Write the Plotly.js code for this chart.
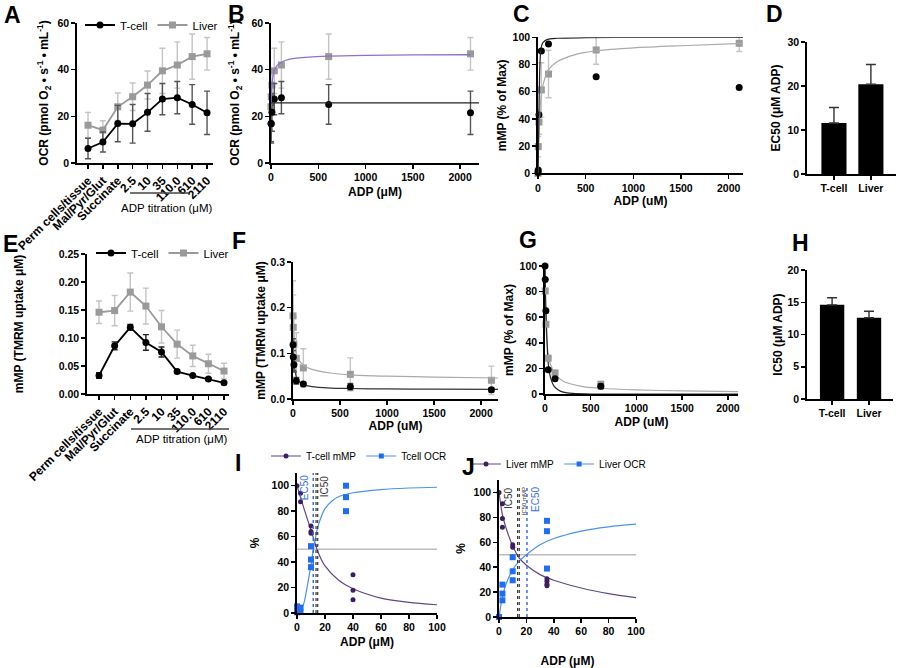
<!DOCTYPE html>
<html><head><meta charset="utf-8">
<script src="https://cdn.plot.ly/plotly-3.0.1.min.js"></script>
<style>html,body{margin:0;padding:0;background:#fff}#chart{width:900px;height:668px}</style>
</head><body><div id="chart"></div>
<script>
// ---------- DATA ----------
const categories = ['Perm cells/tissue','Mal/Pyr/Glut','Succinate','2.5','10','35','110.0','610','2110'];
// A: OCR
const ocrTcell = [6.2, 9.0, 16.9, 16.8, 21.7, 27.4, 28.0, 25.1, 21.5];
const ocrTcellErr = [4.4, 4.3, 7.8, 8.3, 8.1, 6.7, 6.9, 8.5, 9.3];
const ocrLiver = [16.2, 14.1, 24.1, 28.4, 33.4, 39.5, 42.0, 45.6, 46.8];
const ocrLiverErr = [5.5, 4.0, 5.9, 5.9, 6.0, 9.7, 9.9, 9.7, 7.0];
// B: ADP doses (Succinate = 0)
const adpDoses = [0, 2.5, 10, 35, 110, 610, 2110];
const bFitTcellX = [0, 2200];
const bFitTcellY = [25.8, 25.8];
const bFitLiverX = [0, 2.5, 5, 10, 20, 35, 60, 110, 200, 400, 610, 1000, 1500, 2110];
const bFitLiverY = [24, 27.5, 30, 33.5, 37, 39.6, 41.5, 43.2, 44.5, 45.4, 45.8, 46.1, 46.3, 46.4];
// C: mMP % of max
const cTcell = [0.6, 2.5, 43, 90, 95, 71, 63];
const cLiver = [0, 19.6, 37.7, 61.3, 73, 90.7, 95.6];
const cLiverErr = [0, 7.5, 9, 20, 17.5, 10.5, 6];
const cFitTcellX = [0, 2.5, 5, 10, 15, 20, 30, 50, 100, 200, 500, 1000, 2150];
const cFitTcellY = [0, 8, 20, 45, 66, 80, 91, 96, 98.5, 99.3, 99.7, 99.9, 100];
const cFitLiverX = [0, 2.5, 5, 10, 20, 35, 60, 110, 200, 400, 610, 1000, 1500, 2150];
const cFitLiverY = [0, 10, 18, 30, 46, 58, 67, 76, 82, 87.5, 90, 92.2, 93.8, 95.5];
// D: EC50
const barCategories = ['T-cell', 'Liver'];
const ec50 = [11.6, 20.4];
const ec50Err = [3.5, 4.5];
// E: mMP TMRM
const mmpTcell = [0.033, 0.086, 0.119, 0.092, 0.075, 0.040, 0.033, 0.027, 0.020];
const mmpTcellErr = [0.005, 0.007, 0.005, 0.014, 0.009, 0.003, 0.002, 0.002, 0.002];
const mmpLiver = [0.146, 0.149, 0.182, 0.157, 0.120, 0.089, 0.068, 0.054, 0.041];
const mmpLiverErr = [0.020, 0.027, 0.034, 0.032, 0.029, 0.025, 0.019, 0.017, 0.014];
// F
const fTcellErr = [0.013, 0.03, 0.016, 0.007, 0.004, 0.007, 0.005];
const fLiverErr = [0.077, 0.071, 0.06, 0.056, 0.042, 0.036, 0.031];
const fFitX = [0, 2.5, 5, 10, 20, 35, 60, 110, 200, 400, 610, 1000, 1500, 2180];
const fFitTcellY = [0.12, 0.107, 0.097, 0.083, 0.064, 0.049, 0.039, 0.032, 0.027, 0.024, 0.023, 0.022, 0.0215, 0.021];
const fFitLiverY = [0.182, 0.168, 0.157, 0.14, 0.118, 0.1, 0.087, 0.074, 0.065, 0.057, 0.053, 0.05, 0.048, 0.046];
// G
const gAdpTcell = [0, 2.5, 10, 35, 110, 610];
const gTcell = [100, 89.5, 65, 19, 12, 6];
const gTcellErr = [0, 0, 0, 0, 0, 2];
const gAdpLiver = [2.5, 10, 35, 110, 610];
const gLiver = [80.5, 54.5, 28, 16.5, 7.5];
const gLiverErr = [0, 0, 0, 0, 2.5];
const gFitTcellX = [0, 2.5, 5, 10, 20, 35, 60, 100, 150, 200, 300, 500, 1000, 2110];
const gFitTcellY = [100, 90, 80, 66, 45, 24, 13, 6, 3, 1.5, 0.5, 0, 0, 0];
const gFitLiverX = [0, 2.5, 5, 10, 20, 35, 60, 110, 200, 400, 610, 1000, 1500, 2110];
const gFitLiverY = [100, 82, 70, 56, 42, 31, 23, 16, 10, 6, 4.5, 3.2, 2.4, 1.9];
// H: IC50
const ic50 = [14.6, 12.6];
const ic50Err = [1.1, 1.0];
// I: T-cell overlay
const iAdpMmp = [0, 2.5, 2.5, 10, 10, 10, 40, 40, 40];
const iMmp = [100, 94, 87.5, 68.4, 64, 62.7, 30, 17.8, 10.4];
const iAdpOcr = [0, 0, 0, 2.5, 2.5, 10, 10, 10, 35, 35, 35];
const iOcr = [5.2, 2.6, 0.5, 4.2, 0.8, 52.5, 42, 36, 100, 91, 80];
const iFitMmpX = [0, 2.5, 5, 10, 15, 20, 30, 40, 60, 80, 100];
const iFitMmpY = [100, 91, 82, 65, 48, 37, 25.5, 19, 11.7, 8.4, 6.5];
const iFitOcrX = [0, 2.5, 5, 7.5, 10, 12, 15, 20, 25, 30, 40, 60, 80, 100];
const iFitOcrY = [0, 2, 8, 22, 38, 52, 68, 82, 88, 91.5, 94.5, 97, 98.2, 98.8];
const iIc50Lines = [13.6, 14.8];
// J: Liver overlay
const jAdpMmp = [0, 2.5, 2.5, 2.5, 10, 10, 10, 35, 35, 35, 35];
const jMmp = [100, 91, 79, 72, 58, 56, 48, 30.8, 28.7, 26.3, 25];
const jAdpOcr = [0, 2.5, 2.5, 2.5, 10, 10, 10, 35, 35, 35];
const jOcr = [0, 26, 18.8, 13.4, 48, 36.7, 29.5, 77.2, 68.9, 38.9];
const jFitMmpX = [0, 2.5, 5, 10, 15, 20, 30, 40, 60, 80, 100];
const jFitMmpY = [100, 82, 72, 57, 47, 41.5, 34, 29.5, 23.3, 18.8, 15.5];
const jFitOcrX = [0, 1, 2.5, 5, 10, 15, 20, 30, 40, 60, 80, 100];
const jFitOcrY = [0, 7, 16, 26, 38, 45, 50, 58, 63, 69, 72.4, 74.5];
const jIc50Lines = [13.6, 14.8];
const halfLevel = 50;

// ---------- STYLE ----------
const F = 'Liberation Sans, Arial, sans-serif';
const W = 900, H = 668;
const xd = (a, b) => [a / W, b / W];
const yd = (top, bottom) => [1 - bottom / H, 1 - top / H];
const BLACK = '#000', GRAY = '#9a9a9a', GRAYERR = '#c4c4c4', DARKERR = '#555';
const PURPLE = '#3b1f5f', PURPLELINE = '#5f4888', BLUE = '#1c6ef2', BLUELINE = '#4a92f2';

function axis(extra) {
  return Object.assign({
    showline: true, linecolor: '#000', linewidth: 1.8, ticks: 'outside', ticklen: 4,
    tickwidth: 1.5, tickcolor: '#000', showgrid: false, zeroline: false,
    tickfont: {family: F, size: 10.5, color: '#000', weight: 'bold'}, fixedrange: true
  }, extra);
}
function ttl(text, extra) {
  return Object.assign({text: text, font: {family: F, size: 12, color: '#000', weight: 'bold'}}, extra || {});
}
function err(arr, color) {
  return {type: 'data', array: arr, color: color, thickness: 1.4, width: 3, visible: true};
}
const spl = (color, w) => ({color: color, width: w || 1.2, shape: 'spline', smoothing: 0.8});
const catFont = {family: F, size: 12, color: '#000', weight: 'bold'};

const traces = [];
// A
traces.push({x: categories, y: ocrLiver, xaxis: 'x', yaxis: 'y', name: 'Liver', mode: 'lines+markers', legendrank: 2,
  line: {color: GRAY, width: 1.8}, marker: {symbol: 'square', size: 7, color: GRAY},
  error_y: err(ocrLiverErr, GRAYERR), legend: 'legend', cliponaxis: false});
traces.push({x: categories, y: ocrTcell, xaxis: 'x', yaxis: 'y', name: 'T-cell', mode: 'lines+markers', legendrank: 1,
  line: {color: BLACK, width: 1.8}, marker: {symbol: 'circle', size: 7, color: BLACK},
  error_y: err(ocrTcellErr, DARKERR), legend: 'legend', cliponaxis: false});
// B
traces.push({x: adpDoses, y: ocrLiver.slice(2), xaxis: 'x2', yaxis: 'y2', mode: 'markers', showlegend: false,
  marker: {symbol: 'square', size: 7, color: GRAY}, error_y: err(ocrLiverErr.slice(2), GRAYERR), cliponaxis: false});
traces.push({x: adpDoses, y: ocrTcell.slice(2), xaxis: 'x2', yaxis: 'y2', mode: 'markers', showlegend: false,
  marker: {symbol: 'circle', size: 7, color: BLACK}, error_y: err(ocrTcellErr.slice(2), DARKERR), cliponaxis: false});
traces.push({x: bFitLiverX, y: bFitLiverY, xaxis: 'x2', yaxis: 'y2', mode: 'lines', showlegend: false,
  line: spl('#8d72c9', 1.3)});
traces.push({x: bFitTcellX, y: bFitTcellY, xaxis: 'x2', yaxis: 'y2', mode: 'lines', showlegend: false,
  line: {color: '#222', width: 1.2}});
// C
traces.push({x: adpDoses, y: cLiver, xaxis: 'x3', yaxis: 'y3', mode: 'markers', showlegend: false,
  marker: {symbol: 'square', size: 7, color: GRAY}, error_y: err(cLiverErr, GRAYERR), cliponaxis: false});
traces.push({x: adpDoses, y: cTcell, xaxis: 'x3', yaxis: 'y3', mode: 'markers', showlegend: false,
  marker: {symbol: 'circle', size: 7, color: BLACK}, cliponaxis: false});
traces.push({x: cFitLiverX, y: cFitLiverY, xaxis: 'x3', yaxis: 'y3', mode: 'lines', showlegend: false, line: spl('#aaa')});
traces.push({x: cFitTcellX, y: cFitTcellY, xaxis: 'x3', yaxis: 'y3', mode: 'lines', showlegend: false, line: spl('#222')});
// D
traces.push({x: barCategories, y: ec50, xaxis: 'x4', yaxis: 'y4', type: 'bar', showlegend: false, width: 0.68,
  marker: {color: '#000'}, error_y: {type: 'data', symmetric: false, array: ec50Err, arrayminus: [0, 0], color: '#333', thickness: 1.4, width: 5}});
// E
traces.push({x: categories, y: mmpLiver, xaxis: 'x5', yaxis: 'y5', name: 'Liver', mode: 'lines+markers', legendrank: 2,
  line: {color: GRAY, width: 1.8}, marker: {symbol: 'square', size: 7, color: GRAY},
  error_y: err(mmpLiverErr, GRAYERR), legend: 'legend2', cliponaxis: false});
traces.push({x: categories, y: mmpTcell, xaxis: 'x5', yaxis: 'y5', name: 'T-cell', mode: 'lines+markers', legendrank: 1,
  line: {color: BLACK, width: 1.8}, marker: {symbol: 'circle', size: 7, color: BLACK},
  error_y: err(mmpTcellErr, '#222'), legend: 'legend2', cliponaxis: false});
// F
traces.push({x: adpDoses, y: mmpLiver.slice(2), xaxis: 'x6', yaxis: 'y6', mode: 'markers', showlegend: false,
  marker: {symbol: 'square', size: 7, color: GRAY}, error_y: err(fLiverErr, GRAYERR), cliponaxis: false});
traces.push({x: fFitX, y: fFitLiverY, xaxis: 'x6', yaxis: 'y6', mode: 'lines', showlegend: false, line: spl('#aaa')});
traces.push({x: fFitX, y: fFitTcellY, xaxis: 'x6', yaxis: 'y6', mode: 'lines', showlegend: false, line: spl('#333')});
traces.push({x: adpDoses, y: mmpTcell.slice(2), xaxis: 'x6', yaxis: 'y6', mode: 'markers', showlegend: false,
  marker: {symbol: 'circle', size: 7, color: BLACK}, error_y: err(fTcellErr, DARKERR), cliponaxis: false});
// G
traces.push({x: gFitLiverX, y: gFitLiverY, xaxis: 'x7', yaxis: 'y7', mode: 'lines', showlegend: false, line: spl('#aaa')});
traces.push({x: gFitTcellX, y: gFitTcellY, xaxis: 'x7', yaxis: 'y7', mode: 'lines', showlegend: false, line: spl('#222')});
traces.push({x: gAdpLiver, y: gLiver, xaxis: 'x7', yaxis: 'y7', mode: 'markers', showlegend: false,
  marker: {symbol: 'square', size: 7, color: GRAY}, error_y: err(gLiverErr, GRAYERR), cliponaxis: false});
traces.push({x: gAdpTcell, y: gTcell, xaxis: 'x7', yaxis: 'y7', mode: 'markers', showlegend: false,
  marker: {symbol: 'circle', size: 7, color: BLACK}, error_y: err(gTcellErr, DARKERR), cliponaxis: false});
// H
traces.push({x: barCategories, y: ic50, xaxis: 'x8', yaxis: 'y8', type: 'bar', showlegend: false, width: 0.66,
  marker: {color: '#000'}, error_y: {type: 'data', symmetric: false, array: ic50Err, arrayminus: [0, 0], color: '#333', thickness: 1.4, width: 5}});
// I
traces.push({x: iFitMmpX, y: iFitMmpY, xaxis: 'x9', yaxis: 'y9', mode: 'lines', showlegend: false, line: spl(PURPLELINE)});
traces.push({x: iFitOcrX, y: iFitOcrY, xaxis: 'x9', yaxis: 'y9', mode: 'lines', showlegend: false, line: spl(BLUELINE)});
traces.push({x: iAdpMmp, y: iMmp, xaxis: 'x9', yaxis: 'y9', mode: 'markers', showlegend: false,
  marker: {symbol: 'circle', size: 5, color: PURPLE}, cliponaxis: false});
traces.push({x: iAdpOcr, y: iOcr, xaxis: 'x9', yaxis: 'y9', mode: 'markers', showlegend: false,
  marker: {symbol: 'square', size: 6, color: BLUE}, cliponaxis: false});
traces.push({x: [null], y: [null], xaxis: 'x9', yaxis: 'y9', mode: 'lines+markers', name: 'T-cell mMP', legend: 'legend3',
  line: {color: PURPLELINE, width: 1.2}, marker: {symbol: 'circle', size: 5, color: PURPLE}});
traces.push({x: [null], y: [null], xaxis: 'x9', yaxis: 'y9', mode: 'lines+markers', name: 'Tcell OCR', legend: 'legend3',
  line: {color: BLUELINE, width: 1.2}, marker: {symbol: 'square', size: 5, color: BLUE}});
// J
traces.push({x: jFitMmpX, y: jFitMmpY, xaxis: 'x10', yaxis: 'y10', mode: 'lines', showlegend: false, line: spl(PURPLELINE)});
traces.push({x: jFitOcrX, y: jFitOcrY, xaxis: 'x10', yaxis: 'y10', mode: 'lines', showlegend: false, line: spl(BLUELINE)});
traces.push({x: jAdpMmp, y: jMmp, xaxis: 'x10', yaxis: 'y10', mode: 'markers', showlegend: false,
  marker: {symbol: 'circle', size: 5, color: PURPLE}, cliponaxis: false});
traces.push({x: jAdpOcr, y: jOcr, xaxis: 'x10', yaxis: 'y10', mode: 'markers', showlegend: false,
  marker: {symbol: 'square', size: 6, color: BLUE}, cliponaxis: false});
traces.push({x: [null], y: [null], xaxis: 'x10', yaxis: 'y10', mode: 'lines+markers', name: 'Liver mMP', legend: 'legend4',
  line: {color: PURPLELINE, width: 1.2}, marker: {symbol: 'circle', size: 5, color: PURPLE}});
traces.push({x: [null], y: [null], xaxis: 'x10', yaxis: 'y10', mode: 'lines+markers', name: 'Liver OCR', legend: 'legend4',
  line: {color: BLUELINE, width: 1.2}, marker: {symbol: 'square', size: 5, color: BLUE}});

// ---------- LAYOUT ----------
const ocrTitle = 'OCR (pmol O<sub>2</sub> • s<sup>-1</sup> • mL<sup>-1</sup>)';
const legBase = {orientation: 'h', xanchor: 'left', yanchor: 'middle', bgcolor: 'rgba(0,0,0,0)',
  font: {family: F, size: 11.5, color: '#000'}, itemwidth: 30, tracegroupgap: 0, traceorder: 'normal'};
const legSmall = Object.assign({}, legBase, {font: {family: F, size: 10, color: '#000'}});

const letters = [['A', 12, 15], ['B', 236, 14], ['C', 521, 14], ['D', 774, 14], ['E', 10, 244], ['F', 239, 241],
  ['G', 528, 240], ['H', 800, 243], ['I', 238, 463], ['J', 468, 467]];
const annotations = letters.map(l => ({text: l[0], xref: 'paper', yref: 'paper', x: l[1] / W, y: 1 - l[2] / H,
  xanchor: 'center', yanchor: 'middle', showarrow: false, font: {family: F, size: 23, color: '#000', weight: 'bold'}}));
annotations.push({text: 'ADP titration (μM)', xref: 'paper', yref: 'paper', x: 167 / W, y: 1 - 208 / H, showarrow: false,
  xanchor: 'center', yanchor: 'middle', font: {family: F, size: 11.5, color: '#000'}});
annotations.push({text: 'ADP titration (μM)', xref: 'paper', yref: 'paper', x: 182 / W, y: 1 - 439 / H, showarrow: false,
  xanchor: 'center', yanchor: 'middle', font: {family: F, size: 11.5, color: '#000'}});
// I labels
annotations.push({text: 'EC50', xref: 'x9', yref: 'y9', x: ec50[0], y: 110, textangle: -90, showarrow: false,
  xanchor: 'right', yanchor: 'top', xshift: -1, font: {family: F, size: 10, color: '#3b6cf0'}});
annotations.push({text: 'IC50', xref: 'x9', yref: 'y9', x: iIc50Lines[1], y: 110, textangle: -90, showarrow: false,
  xanchor: 'left', yanchor: 'top', xshift: -1, font: {family: F, size: 10, color: '#333'}});
// J labels
annotations.push({text: 'IC50', xref: 'x10', yref: 'y10', x: jIc50Lines[0], y: 106, textangle: -90, showarrow: false,
  xanchor: 'right', yanchor: 'top', xshift: -1, font: {family: F, size: 10, color: '#333'}});
annotations.push({text: 'IC50 mMP', xref: 'x10', yref: 'y10', x: jIc50Lines[1], y: 106, textangle: -90, showarrow: false,
  xanchor: 'left', yanchor: 'top', xshift: 0, font: {family: F, size: 6, color: '#333'}});
annotations.push({text: 'EC50', xref: 'x10', yref: 'y10', x: ec50[1], y: 106, textangle: -90, showarrow: false,
  xanchor: 'left', yanchor: 'top', xshift: 1, font: {family: F, size: 10, color: '#3b6cf0'}});

const shapes = [
  {type: 'line', xref: 'paper', yref: 'paper', x0: 130 / W, x1: 189 / W, y0: 1 - 193 / H, y1: 1 - 193 / H, line: {color: '#444', width: 1.4}},
  {type: 'line', xref: 'paper', yref: 'paper', x0: 131 / W, x1: 229 / W, y0: 1 - 429 / H, y1: 1 - 429 / H, line: {color: '#444', width: 1.4}},
  {type: 'line', xref: 'x9', yref: 'y9', x0: 0, x1: 100, y0: halfLevel, y1: halfLevel, line: {color: '#bdbdbd', width: 1.5}, layer: 'below'},
  {type: 'line', xref: 'x10', yref: 'y10', x0: 0, x1: 100, y0: halfLevel, y1: halfLevel, line: {color: '#bdbdbd', width: 1.5}, layer: 'below'},
  {type: 'line', xref: 'x9', yref: 'y9', x0: ec50[0], x1: ec50[0], y0: 0, y1: 110, line: {color: '#3b6cf0', width: 1.5, dash: 'dot'}},
  {type: 'line', xref: 'x10', yref: 'y10', x0: ec50[1], x1: ec50[1], y0: 0, y1: 106, line: {color: '#3b6cf0', width: 1.5, dash: 'dot'}}
];
iIc50Lines.forEach(v => shapes.push({type: 'line', xref: 'x9', yref: 'y9', x0: v, x1: v, y0: 0, y1: 110, line: {color: '#333', width: 1.2, dash: 'dot'}}));
jIc50Lines.forEach(v => shapes.push({type: 'line', xref: 'x10', yref: 'y10', x0: v, x1: v, y0: 0, y1: 106, line: {color: '#333', width: 1.2, dash: 'dot'}}));

const catAxis = {type: 'category', tickmode: 'array', tickvals: categories, ticktext: categories, tickangle: -45, tickfont: catFont};

const layout = {
  width: W, height: H, margin: {l: 0, r: 0, t: 0, b: 0}, paper_bgcolor: '#fff', plot_bgcolor: 'rgba(0,0,0,0)',
  font: {family: F, color: '#000'},
  legend: Object.assign({}, legBase, {x: 80 / W, y: 1 - 25 / H}),
  legend2: Object.assign({}, legBase, {x: 91 / W, y: 1 - 253 / H}),
  legend3: Object.assign({}, legSmall, {x: 266 / W, y: 1 - 456 / H}),
  legend4: Object.assign({}, legSmall, {x: 466 / W, y: 1 - 464 / H}),
  // A
  xaxis: axis(Object.assign({domain: xd(77, 213), anchor: 'y', range: [-0.74, 8.4]}, catAxis)),
  yaxis: axis({domain: yd(23, 163), anchor: 'x', range: [0, 60], tickvals: [0, 20, 40, 60], title: ttl(ocrTitle, {standoff: 6})}),
  // B
  xaxis2: axis({domain: xd(271, 479), anchor: 'y2', range: [0, 2200], tickvals: [0, 500, 1000, 1500, 2000], title: ttl('ADP (μM)', {standoff: 5})}),
  yaxis2: axis({domain: yd(23, 163), anchor: 'x2', range: [0, 60], tickvals: [0, 20, 40, 60], title: ttl(ocrTitle, {standoff: 9})}),
  // C
  xaxis3: axis({domain: xd(538, 743), anchor: 'y3', range: [0, 2150], tickvals: [0, 500, 1000, 1500, 2000], title: ttl('ADP (uM)', {standoff: 4})}),
  yaxis3: axis({domain: yd(37.3, 173.3), anchor: 'x3', range: [0, 100], dtick: 20, title: ttl('mMP (% of Max)', {standoff: 3})}),
  // D
  xaxis4: axis({domain: xd(807, 896), anchor: 'y4', type: 'category', range: [-0.73, 1.68]}),
  yaxis4: axis({domain: yd(42, 174), anchor: 'x4', range: [0, 30], dtick: 10, title: ttl('EC50 (μM ADP)', {standoff: 4})}),
  // E
  xaxis5: axis(Object.assign({domain: xd(87, 229), anchor: 'y5', range: [-0.77, 8.32]}, catAxis)),
  yaxis5: axis({domain: yd(254, 394), anchor: 'x5', range: [0, 0.25], dtick: 0.05, tickformat: '.2f', title: ttl('mMP (TMRM uptake μM)', {standoff: 32})}),
  // F
  xaxis6: axis({domain: xd(293, 498), anchor: 'y6', range: [0, 2180], tickvals: [0, 500, 1000, 1500, 2000], title: ttl('ADP (uM)', {standoff: 3})}),
  yaxis6: axis({domain: yd(262, 399), anchor: 'x6', range: [0, 0.3], dtick: 0.1, tickformat: '.1f', title: ttl('mMP (TMRM uptake μM)', {standoff: 2})}),
  // G
  xaxis7: axis({domain: xd(545, 738), anchor: 'y7', range: [0, 2110], tickvals: [0, 500, 1000, 1500, 2000], title: ttl('ADP (uM)', {standoff: 4})}),
  yaxis7: axis({domain: yd(266, 394), anchor: 'x7', range: [0, 100], dtick: 20, title: ttl('mMP (% of Max)', {standoff: 3})}),
  // H
  xaxis8: axis({domain: xd(807, 893), anchor: 'y8', type: 'category', range: [-0.68, 1.65]}),
  yaxis8: axis({domain: yd(270, 399), anchor: 'x8', range: [0, 20], dtick: 5, title: ttl('IC50 (μM ADP)', {standoff: 2})}),
  // I
  xaxis9: axis({domain: xd(297, 437), anchor: 'y9', range: [0, 100], dtick: 20, title: ttl('ADP (μM)', {standoff: 5})}),
  yaxis9: axis({domain: yd(473, 613), anchor: 'x9', range: [0, 110], tickvals: [0, 20, 40, 60, 80, 100], title: ttl('%', {standoff: 9})}),
  // J
  xaxis10: axis({domain: xd(499, 636), anchor: 'y10', range: [0, 100], dtick: 20, title: ttl('ADP (μM)', {standoff: 23})}),
  yaxis10: axis({domain: yd(480, 617), anchor: 'x10', range: [0, 110], tickvals: [0, 20, 40, 60, 80, 100], title: ttl('%', {standoff: 5})}),
  annotations: annotations,
  shapes: shapes,
  showlegend: true
};

Plotly.newPlot('chart', traces, layout, {staticPlot: true, displayModeBar: false});
</script>
</body></html>
